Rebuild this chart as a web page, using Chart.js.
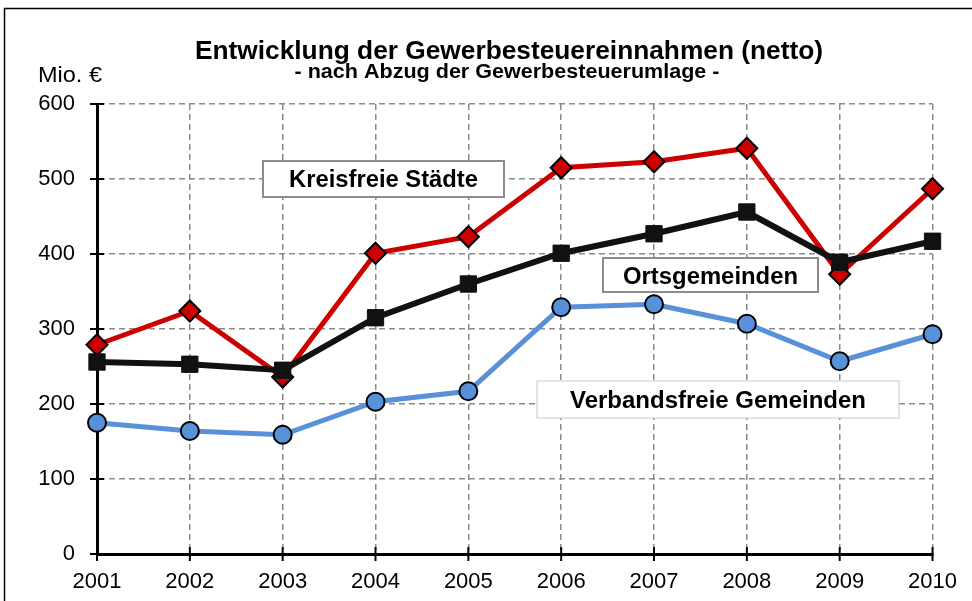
<!DOCTYPE html>
<html>
<head>
<meta charset="utf-8">
<script src="https://cdn.jsdelivr.net/npm/chart.js@4"></script>
<style>
  body { margin: 0; background: #fff; }
  #wrap { width: 972px; height: 601px; position: relative; }
</style>
</head>
<body>
<div id="wrap"><canvas id="mainChart" width="972" height="601"></canvas></div>
<script>
const years = ['2001', '2002', '2003', '2004', '2005', '2006', '2007', '2008', '2009', '2010'];
const kreisfreie = [279, 324, 236, 401, 423, 515, 523, 541, 373, 487];
const ortsgemeinden = [256, 253, 245, 315, 360, 401, 427, 456, 389, 417];
const verbandsfreie = [175, 164, 159, 203, 217, 329, 333, 307, 257, 293];
const yTicks = [0, 100, 200, 300, 400, 500, 600];

const titleText = 'Entwicklung der Gewerbesteuereinnahmen (netto)';
const subtitleText = '- nach Abzug der Gewerbesteuerumlage -';
const unitText = 'Mio. €';

const FONT = '"Liberation Sans", Arial, sans-serif';

// boxes with series names, drawn on top of the chart
const nameBoxes = [
  {text: 'Kreisfreie Städte', x: 263, y: 161, w: 241, h: 36, tw: 189, base: 187, border: '#8c8c8c', lw: 2},
  {text: 'Ortsgemeinden', x: 603, y: 258, w: 215, h: 34, tw: 175, base: 284, border: '#8c8c8c', lw: 2},
  {text: 'Verbandsfreie Gemeinden', x: 537, y: 381, w: 362, h: 37, tw: 296, base: 408, border: '#c8c8c8', lw: 1}
];

// text squeezed / stretched to a given width, centred on cx
function fitText(c, txt, cx, baseY, width) {
  const w = c.measureText(txt).width;
  c.save();
  c.translate(cx, baseY);
  c.scale(width / w, 1);
  c.textAlign = 'center';
  c.textBaseline = 'alphabetic';
  c.fillText(txt, 0, 0);
  c.restore();
}

const decor = {
  id: 'decor',
  afterDraw(chart) {
    const c = chart.ctx;
    const xs = chart.scales.x, ys = chart.scales.y;
    c.save();
    // outer frame
    c.strokeStyle = '#000';
    c.lineWidth = 1.5;
    c.strokeRect(4.5, 8.5, 1100, 1100);

    // tick marks crossing the axes
    c.lineWidth = 2;
    c.strokeStyle = '#000';
    yTicks.forEach(v => {
      const py = ys.getPixelForValue(v);
      c.beginPath();
      c.moveTo(xs.left - 7, py);
      c.lineTo(xs.left + 7, py);
      c.stroke();
    });
    years.forEach((y, i) => {
      const px = xs.getPixelForValue(i);
      c.beginPath();
      c.moveTo(px, ys.bottom - 7);
      c.lineTo(px, ys.bottom + 7);
      c.stroke();
    });

    // titles
    c.fillStyle = '#000';
    c.font = 'bold 25px ' + FONT;
    fitText(c, titleText, 509, 59, 628);
    c.font = 'bold 20px ' + FONT;
    fitText(c, subtitleText, 507, 78, 425);
    c.font = '22px ' + FONT;
    fitText(c, unitText, 70, 82, 64);

    // name boxes
    nameBoxes.forEach(b => {
      c.fillStyle = '#fff';
      c.fillRect(b.x, b.y, b.w, b.h);
      c.strokeStyle = b.border;
      c.lineWidth = b.lw;
      c.strokeRect(b.x, b.y, b.w, b.h);
      c.fillStyle = '#000';
      c.font = 'bold 23px ' + FONT;
      fitText(c, b.text, b.x + b.w / 2, b.base, b.tw);
    });
    c.restore();
  }
};

const ctx = document.getElementById('mainChart');

new Chart(ctx, {
  type: 'line',
  data: {
    labels: years,
    datasets: [
      {
        label: 'Ortsgemeinden',
        data: ortsgemeinden,
        borderColor: '#111111',
        backgroundColor: '#111111',
        borderWidth: 6,
        pointStyle: 'rect',
        pointRadius: 11.5,
        pointBorderColor: '#111111',
        pointBorderWidth: 1,
        order: 0
      },
      {
        label: 'Kreisfreie Städte',
        data: kreisfreie,
        borderColor: '#cc0000',
        backgroundColor: '#cc0000',
        borderWidth: 5,
        pointStyle: 'rectRot',
        pointRadius: 10.5,
        pointBorderColor: '#000',
        pointBorderWidth: 2,
        order: 1
      },
      {
        label: 'Verbandsfreie Gemeinden',
        data: verbandsfreie,
        borderColor: '#5890da',
        backgroundColor: '#5890da',
        borderWidth: 5,
        pointStyle: 'circle',
        pointRadius: 9,
        pointBorderColor: '#000',
        pointBorderWidth: 2,
        order: 2
      }
    ]
  },
  options: {
    responsive: false,
    animation: false,
    layout: { padding: { top: 104, right: 39, left: 0, bottom: 0 } },
    plugins: {
      legend: { display: false },
      title: { display: false },
      tooltip: { enabled: false }
    },
    scales: {
      x: {
        offset: false,
        grid: { color: '#8a8a8a', lineWidth: 1.5, drawTicks: false },
        border: { display: true, color: '#000', width: 3, dash: [6, 4] },
        ticks: { color: '#000', padding: 15, maxRotation: 0, font: { family: FONT, size: 22 } },
        afterFit(scale) { scale.height = 47; }
      },
      y: {
        min: 0,
        max: 600,
        grid: { color: '#8a8a8a', lineWidth: 1.5, drawTicks: false },
        border: { display: true, color: '#000', width: 3, dash: [6, 4] },
        ticks: { color: '#000', stepSize: 100, padding: 22, font: { family: FONT, size: 22 } },
        afterFit(scale) { scale.width = 97; }
      }
    }
  },
  plugins: [decor]
});
</script>
</body>
</html>
